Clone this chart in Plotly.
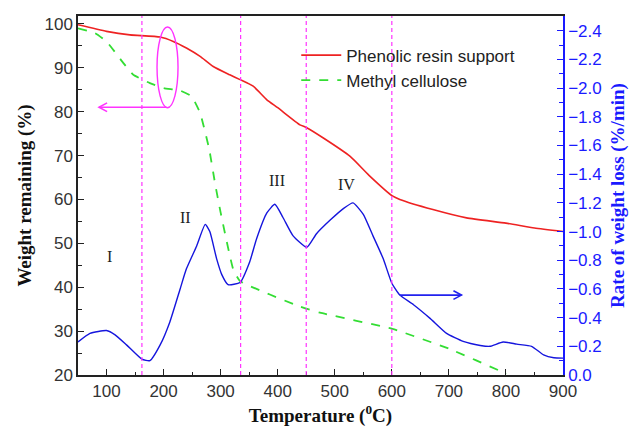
import plotly.graph_objects as go

# ---- data ----
resin_T = [50, 100, 141, 194, 217, 240, 264, 287, 316, 334, 357, 381, 400, 439, 450, 480, 527, 560, 601, 614, 672, 731, 800, 850, 900]
resin_W = [99.8, 98.3, 97.5, 97.0, 96.0, 94.5, 92.6, 90.3, 88.4, 87.3, 85.8, 82.7, 80.9, 77.0, 76.4, 74.0, 69.8, 65.5, 60.8, 60.0, 57.7, 55.8, 54.6, 53.5, 52.7]

mc_T = [50, 80, 100, 130, 147, 176, 200, 229, 249, 264, 280, 290, 300, 322, 334, 439, 474, 601, 700, 795, 800]
mc_W = [99.0, 97.9, 96.0, 91.0, 88.4, 86.5, 85.4, 84.8, 83.5, 79.7, 71.4, 63.8, 57.0, 44.1, 41.4, 35.6, 34.2, 30.5, 26.0, 20.6, 20.2]

dtg_T = [50, 71, 100, 115, 135, 162, 176, 194, 211, 229, 240, 258, 273, 281, 293, 302, 313, 334, 351, 363, 381, 395, 409, 427, 451, 468, 492, 515, 532, 550, 567, 585, 600, 614, 638, 667, 696, 725, 755, 772, 795, 819, 845, 866, 884, 900]
dtg_R = [-0.23, -0.29, -0.31, -0.28, -0.21, -0.11, -0.10, -0.21, -0.37, -0.60, -0.74, -0.90, -1.05, -1.00, -0.81, -0.70, -0.63, -0.645, -0.79, -0.95, -1.13, -1.19, -1.10, -0.97, -0.89, -0.985, -1.08, -1.16, -1.20, -1.12, -0.97, -0.81, -0.64, -0.557, -0.49, -0.395, -0.29, -0.234, -0.206, -0.20, -0.23, -0.215, -0.20, -0.14, -0.12, -0.118]

stage_T = [162, 335, 450, 600]
stage_labels = ["I", "II", "III", "IV"]
stage_label_T = [106, 239, 399, 521]
stage_label_W = [47, 56, 64.3, 63.3]

x_ticks = [100, 200, 300, 400, 500, 600, 700, 800, 900]
left_ticks = [20, 30, 40, 50, 60, 70, 80, 90, 100]
right_ticks = [0.0, -0.2, -0.4, -0.6, -0.8, -1.0, -1.2, -1.4, -1.6, -1.8, -2.0, -2.2, -2.4]

BLUE = "#1a1aff"
MAG = "#ff33ff"
fig = go.Figure()

fig.add_trace(go.Scatter(x=resin_T, y=resin_W, mode="lines", name="Phenolic resin support",
                         line=dict(color="#ee2222", width=1.6, shape="spline", smoothing=0.5)))
fig.add_trace(go.Scatter(x=mc_T, y=mc_W, mode="lines", name="Methyl cellulose",
                         line=dict(color="#33dd33", width=1.8, dash="dash", shape="spline", smoothing=0.4)))
fig.add_trace(go.Scatter(x=dtg_T, y=dtg_R, mode="lines", yaxis="y2", showlegend=False,
                         line=dict(color="#1515dd", width=1.4, shape="spline", smoothing=0.5)))

shapes = []
for t in stage_T:
    shapes.append(dict(type="line", xref="x", yref="paper", x0=t, x1=t, y0=0, y1=1,
                       line=dict(color=MAG, width=1.2, dash="4px,3px")))
shapes.append(dict(type="circle", xref="x", yref="y", x0=188.5, x1=225.3, y0=80.9, y1=99.3,
                   line=dict(color=MAG, width=1.4)))
# magenta arrow (pointing left, to left axis)
shapes.append(dict(type="line", xref="x", yref="y", x0=204, x1=86.8, y0=81, y1=81,
                   line=dict(color=MAG, width=1.6)))
shapes.append(dict(type="path", xref="x", yref="y", path="M 101,82.0 L 86.8,81 L 101,80.0",
                   line=dict(color=MAG, width=1.6)))
# blue arrow (pointing right, to right axis)
shapes.append(dict(type="line", xref="x", yref="y2", x0=614, x1=722, y0=-0.557, y1=-0.557,
                   line=dict(color="#2222ee", width=1.6)))
shapes.append(dict(type="path", xref="x", yref="y2", path="M 708,-0.587 L 722,-0.557 L 708,-0.527",
                   line=dict(color="#2222ee", width=1.6)))

annotations = []
for t, w, s in zip(stage_label_T, stage_label_W, stage_labels):
    annotations.append(dict(x=t, y=w, xref="x", yref="y", text=s, showarrow=False,
                            font=dict(family="Liberation Serif", size=16, color="#222")))

fig.update_layout(
    width=637, height=435,
    margin=dict(l=78, r=74, t=16, b=58),
    paper_bgcolor="white", plot_bgcolor="white",
    font=dict(family="Liberation Sans", size=17, color="#333"),
    shapes=shapes, annotations=annotations,
    legend=dict(x=0.45, y=0.94, xanchor="left", yanchor="top", bgcolor="rgba(0,0,0,0)",
                font=dict(family="Liberation Sans", size=17, color="#222"), tracegroupgap=0,
                itemwidth=40),
    xaxis=dict(range=[50, 900], tickvals=x_ticks, ticks="inside", ticklen=6, tickcolor="#222",
               showline=True, linecolor="#222", linewidth=1.5, mirror=True, showgrid=False, zeroline=False,
               minor=dict(dtick=50, ticks="inside", ticklen=3, tickcolor="#222"),
               title=dict(text="<b>Temperature (<sup>0</sup>C)</b>", standoff=9,
                          font=dict(family="Liberation Serif", size=19, color="#111"))),
    yaxis=dict(range=[20, 101.8], tickvals=left_ticks, ticks="inside", ticklen=6, tickcolor="#222",
               showline=True, linecolor="#222", linewidth=1.5, showgrid=False, zeroline=False,
               minor=dict(dtick=5, ticks="inside", ticklen=4, tickcolor="#222"),
               title=dict(text="<b>Weight remaining (%)</b>", standoff=8,
                          font=dict(family="Liberation Serif", size=19, color="#111"))),
    yaxis2=dict(overlaying="y", side="right", range=[0, -2.503], tickvals=right_ticks,
                tickformat=".1f", ticks="inside", ticklen=6, tickcolor=BLUE,
                tickfont=dict(color=BLUE, size=17),
                showline=True, linecolor=BLUE, linewidth=1.5, showgrid=False, zeroline=False,
                minor=dict(dtick=0.1, ticks="inside", ticklen=4, tickcolor=BLUE),
                title=dict(text="<b>Rate of weight loss (%/min)</b>", standoff=10,
                           font=dict(family="Liberation Serif", size=19, color=BLUE))),
)

fig.write_html("out.html")
